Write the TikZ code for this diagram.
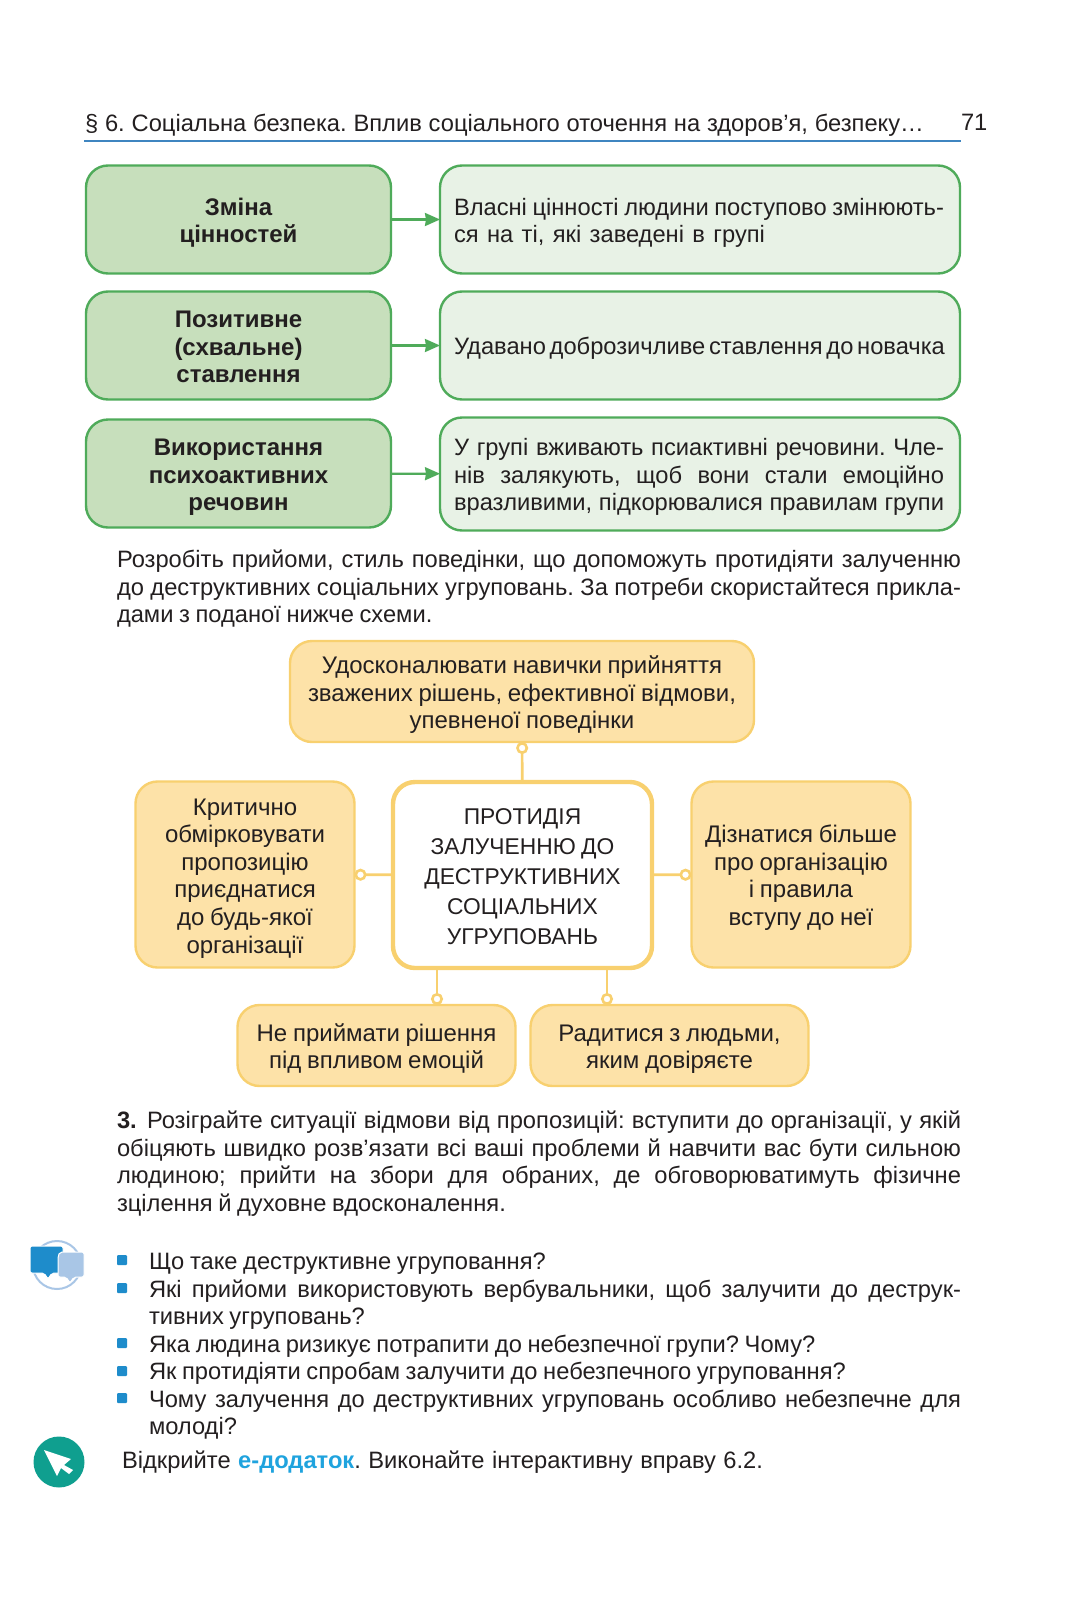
\documentclass[tikz,border=0pt]{standalone}
\usepackage{fontspec}
\setmainfont[WordSpace=0.85]{Liberation Sans}
\frenchspacing
\usepackage{tikz}
\usetikzlibrary{arrows.meta}
\definecolor{greenline}{HTML}{4FAB5A}
\definecolor{greenfill}{HTML}{C7DFBC}
\definecolor{greenpale}{HTML}{E8F2E6}
\definecolor{yellowline}{HTML}{F8D06F}
\definecolor{yellowfill}{HTML}{FDE2A8}
\definecolor{bluerule}{HTML}{3F85C0}
\definecolor{bluemark}{HTML}{1E8CCB}
\definecolor{bluelink}{HTML}{1FA3DE}
\definecolor{bubblepale}{HTML}{A9C6E6}
\definecolor{tealround}{HTML}{0F9F8F}
\definecolor{inktext}{HTML}{231F20}
\newcommand{\fl}[1]{\makebox[\hsize][s]{#1}}
\newcommand{\tp}{\rule{0pt}{24pt}}
\tikzset{
    base/.style={rectangle, rounded corners=22pt, outer sep=0pt, inner sep=0pt, align=center, text=inktext, font=\fontsize{24}{27.6}\selectfont},
    greenhead/.style={base, draw=greenline, line width=2.4pt, fill=greenfill, minimum width=305pt, font=\fontsize{24}{27.6}\selectfont\bfseries},
    greenbody/.style={base, draw=greenline, line width=2.4pt, fill=greenpale, minimum width=520pt},
    yellowbox/.style={base, draw=yellowline, line width=2.4pt, fill=yellowfill},
    para/.style={inner sep=0pt, outer sep=0pt, anchor=north west, align=flush left, text=inktext, font=\fontsize{23.7}{27.5}\selectfont},
    bulletmark/.style={fill=bluemark, rounded corners=1pt},
    arrow/.style={draw=greenline, line width=2.2pt, -{Stealth[length=15pt, width=13pt, inset=1pt]}},
    link/.style={draw=yellowline, line width=2.6pt, -{Circle[open, length=12pt, width=12pt, fill=white]}}
}

\begin{document}
\begin{tikzpicture}[x=1pt, y=-1pt]
\useasboundingbox[fill=white] (0,0) rectangle (1091,1598);
% page head
\node[para, text width=839pt] (head) at (85,114) {\fl{§ 6. Соціальна безпека. Вплив соціального оточення на здоров’я, безпеку…}};
\node[para] (pagenum) at (961,114) {71};
\coordinate (rulea) at (84,141);
\coordinate (ruleb) at (961,141);
\draw[bluerule, line width=1.6pt] (rulea) -- (ruleb);
% green rows
\node[greenhead, minimum height=108pt] (h1) at (238.5,219.5) {\tp Зміна\\цінностей};
\node[greenhead, minimum height=108pt] (h2) at (238.5,345.5) {\rule{0pt}{20pt}Позитивне\\(схвальне)\\ставлення};
\node[greenhead, minimum height=108pt] (h3) at (238.5,473.5) {\tp Використання\\психоактивних\\речовин};
\node[greenbody, minimum height=108pt] (b1) at (700,219.5) {};
\node[greenbody, minimum height=108pt] (b2) at (700,345.5) {};
\node[greenbody, minimum height=113pt] (b3) at (700,474) {};
\node[para, text width=490pt, anchor=west] (t1) at (454,223) {\fl{Власні цінності людини поступово змінюють-}\\\makebox[311pt][s]{ся на ті, які заведені в групі}};
\node[para, text width=490pt, anchor=west] (t2) at (454,348) {\fl{Удавано доброзичливе ставлення до новачка}};
\node[para, text width=490pt, anchor=west] (t3) at (454,477) {\fl{У групі вживають псиактивні речовини. Чле-}\\\fl{нів залякують, щоб вони стали емоційно}\\\fl{вразливими, підкорювалися правилам групи}};
\draw[arrow] (h1) -- (b1);
\draw[arrow] (h2) -- (b2);
\draw[arrow] (h3) -- (b3);
% first paragraph
\node[para, text width=844pt] (p1) at (117,550) {\fl{Розробіть прийоми, стиль поведінки, що допоможуть протидіяти залученню}\\\fl{до деструктивних соціальних угруповань. За потреби скористайтеся прикла-}\\дами з поданої нижче схеми.};
% yellow scheme
\node[yellowbox, minimum width=464pt, minimum height=101pt] (top) at (522,691.5) {\tp Удосконалювати навички прийняття\\зважених рішень, ефективної відмови,\\упевненої поведінки};
\node[yellowbox, minimum width=219pt, minimum height=186pt] (lft) at (245,874.5) {\tp Критично\\обмірковувати\\пропозицію\\приєднатися\\до будь-якої\\організації};
\node[yellowbox, minimum width=219pt, minimum height=186pt] (rgt) at (801,874.5) {\tp Дізнатися більше\\про організацію\\і правила\\вступу до неї};
\node[yellowbox, minimum width=278pt, minimum height=81pt] (bl) at (376.5,1045.5) {\tp Не приймати рішення\\під впливом емоцій};
\node[yellowbox, minimum width=278pt, minimum height=81pt] (br) at (669.5,1045.5) {\tp Радитися з людьми,\\яким довіряєте};
\node[base, draw=yellowline, line width=4.4pt, fill=white, minimum width=259pt, minimum height=186pt, font=\fontsize{22.8}{29.8}\selectfont] (cen) at (522.5,875) {\rule{0pt}{19pt}ПРОТИДІЯ\\ЗАЛУЧЕННЮ ДО\\ДЕСТРУКТИВНИХ\\СОЦІАЛЬНИХ\\УГРУПОВАНЬ};
\draw[link] (cen) -- (top);
\draw[link] (cen) -- (lft);
\draw[link] (cen) -- (rgt);
\draw[link] ([xshift=-85.5pt]cen.south) -- ([xshift=-85.5pt]cen.south |- bl.north);
\draw[link] ([xshift=84.5pt]cen.south) -- ([xshift=84.5pt]cen.south |- br.north);
% task three
\node[para, text width=844pt] (p2) at (117,1111) {\fl{\textbf{3.}\hspace{3pt} Розіграйте ситуації відмови від пропозицій: вступити до організації, у якій}\\\fl{обіцяють швидко розв’язати всі ваші проблеми й навчити вас бути сильною}\\\fl{людиною; прийти на збори для обраних, де обговорюватимуть фізичне}\\зцілення й духовне вдосконалення.};
% question list
\node[para, text width=812pt] (q1) at (149,1253) {Що таке деструктивне угруповання?\\\fl{Які прийоми використовують вербувальники, щоб залучити до деструк-}\\тивних угруповань?\\Яка людина ризикує потрапити до небезпечної групи? Чому?\\Як протидіяти спробам залучити до небезпечного угруповання?\\\fl{Чому залучення до деструктивних угруповань особливо небезпечне для}\\молоді?};
\foreach \y in {1260,1288,1343,1371,1398}
    \fill[bulletmark] (117,\y-5) rectangle (127,\y+5);
% bubbles
\draw[bubblepale, line width=2pt] (57,1265) circle (24);
\filldraw[fill=bluemark, draw=white, line width=1pt, rounded corners=2pt] (30,1246) -- (63,1246) -- (63,1273) -- (52,1273) -- (48,1279) -- (44,1273) -- (30,1273) -- cycle;
\filldraw[fill=bubblepale, draw=white, line width=1pt, rounded corners=2pt] (60,1252) -- (84,1252) -- (84,1277) -- (74,1277) -- (70,1283) -- (66,1277) -- (58,1277) -- (58,1256) -- cycle;
% cursor round
\fill[tealround] (59,1462) circle (25.5);
\fill[white] (44,1450) -- (71,1459) -- (64,1465) -- (73,1470) -- (69,1474) -- (61,1468) -- (57,1476) -- cycle;
% last line
\node[para] (e1) at (122,1451) {\makebox[641pt][s]{Відкрийте {\color{bluelink}\bfseries е-додаток}. Виконайте інтерактивну вправу 6.2.}};
\end{tikzpicture}
\end{document}
